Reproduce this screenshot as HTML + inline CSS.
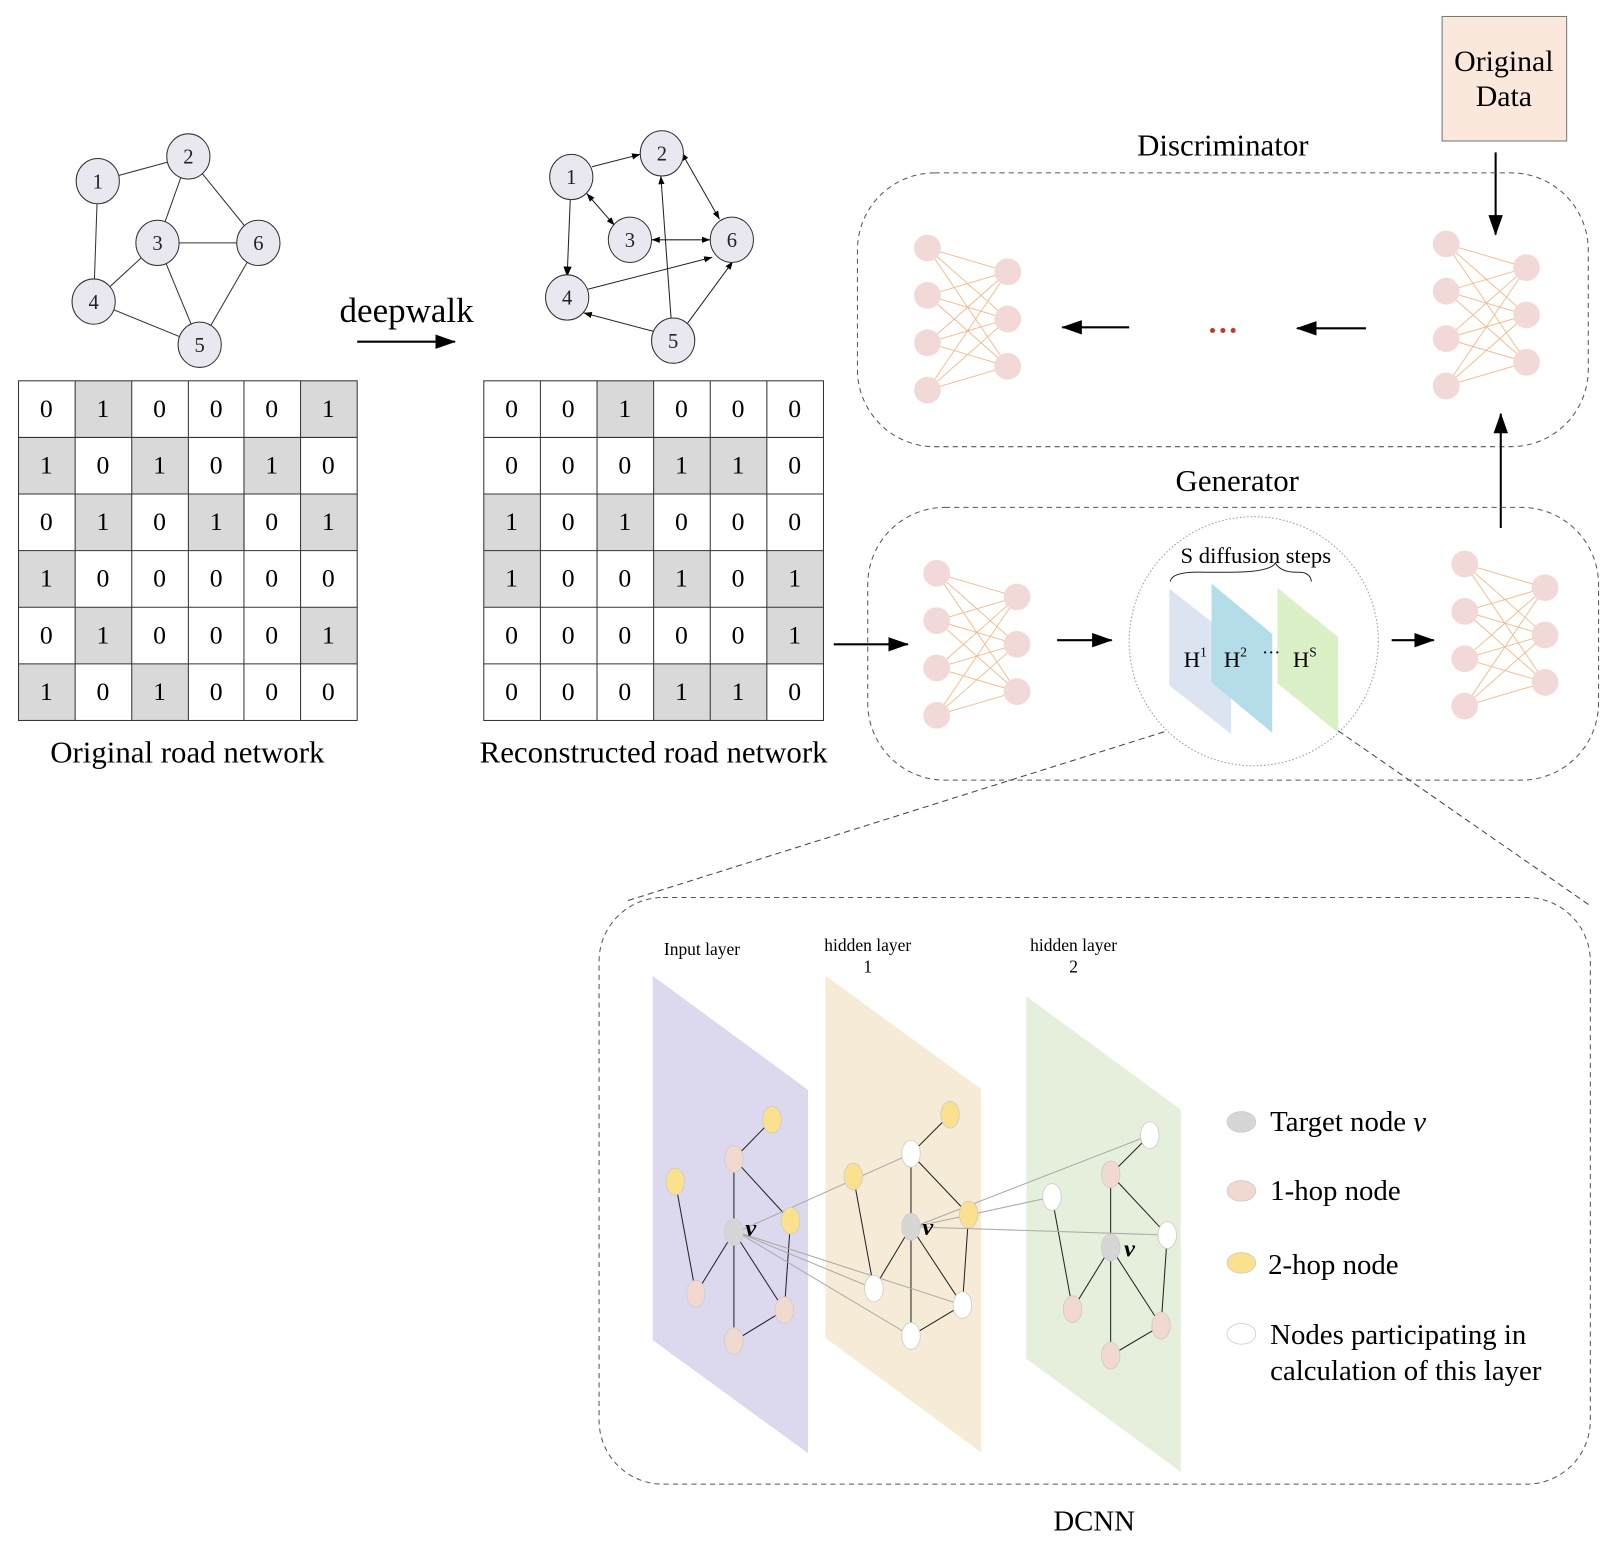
<!DOCTYPE html>
<html><head><meta charset="utf-8"><style>html,body{margin:0;padding:0;background:#fff}svg{display:block}</style></head>
<body>
<svg width="1614" height="1549" viewBox="0 0 1568 1505" preserveAspectRatio="none" xmlns="http://www.w3.org/2000/svg" font-family="Liberation Serif, serif">
<defs>
<marker id="ah" markerWidth="10" markerHeight="8" refX="9" refY="4" orient="auto" markerUnits="userSpaceOnUse"><path d="M0,0 L10,4 L0,8 z" fill="#000"/></marker>
<marker id="sa" markerWidth="8" markerHeight="6" refX="8" refY="3" orient="auto-start-reverse" markerUnits="userSpaceOnUse"><path d="M0,0 L8,3 L0,6 z" fill="#000"/></marker>
<marker id="big" markerWidth="20" markerHeight="14" refX="19" refY="7" orient="auto" markerUnits="userSpaceOnUse"><path d="M0,0 L20,7 L0,14 z" fill="#000"/></marker>
<g id="net">
<g stroke="#f6b98c" stroke-width="0.9">
<line x1="0" y1="0" x2="78" y2="23"/><line x1="0" y1="0" x2="78" y2="69"/><line x1="0" y1="0" x2="78" y2="115"/>
<line x1="0" y1="46" x2="78" y2="23"/><line x1="0" y1="46" x2="78" y2="69"/><line x1="0" y1="46" x2="78" y2="115"/>
<line x1="0" y1="92" x2="78" y2="23"/><line x1="0" y1="92" x2="78" y2="69"/><line x1="0" y1="92" x2="78" y2="115"/>
<line x1="0" y1="138" x2="78" y2="23"/><line x1="0" y1="138" x2="78" y2="69"/><line x1="0" y1="138" x2="78" y2="115"/>
</g>
<g fill="#f2d9d7">
<circle cx="0" cy="0" r="13"/><circle cx="0" cy="46" r="13"/><circle cx="0" cy="92" r="13"/><circle cx="0" cy="138" r="13"/>
<circle cx="78" cy="23" r="13"/><circle cx="78" cy="69" r="13"/><circle cx="78" cy="115" r="13"/>
</g>
</g>
</defs>

<!-- Graph 1 -->
<g stroke="#333" stroke-width="1">
<line x1="95" y1="176" x2="183" y2="152"/><line x1="95" y1="176" x2="91" y2="293"/>
<line x1="183" y1="152" x2="153" y2="236"/><line x1="183" y1="152" x2="251" y2="236"/>
<line x1="153" y1="236" x2="251" y2="236"/><line x1="153" y1="236" x2="91" y2="293"/>
<line x1="153" y1="236" x2="194" y2="335"/><line x1="91" y1="293" x2="194" y2="335"/>
<line x1="194" y1="335" x2="251" y2="236"/>
</g>
<g fill="#e9e7f0" stroke="#333" stroke-width="1">
<ellipse cx="95" cy="176" rx="21" ry="22"/><ellipse cx="183" cy="152" rx="21" ry="22"/>
<ellipse cx="153" cy="236" rx="21" ry="22"/><ellipse cx="251" cy="236" rx="21" ry="22"/>
<ellipse cx="91" cy="293" rx="21" ry="22"/><ellipse cx="194" cy="335" rx="21" ry="22"/>
</g>
<g font-size="20" text-anchor="middle" fill="#222">
<text x="95" y="183">1</text><text x="183" y="159">2</text><text x="153" y="243">3</text>
<text x="251" y="243">6</text><text x="91" y="300">4</text><text x="194" y="342">5</text>
</g>

<!-- deepwalk -->
<text x="395" y="313" font-size="34" text-anchor="middle">deepwalk</text>
<line x1="347" y1="332" x2="442" y2="332" stroke="#000" stroke-width="2" marker-end="url(#big)"/>

<!-- Graph 2 -->
<g stroke="#222" stroke-width="1">
<line x1="575" y1="162" x2="622" y2="150" marker-end="url(#sa)"/>
<line x1="570" y1="188" x2="597" y2="219" marker-start="url(#sa)" marker-end="url(#sa)"/>
<line x1="554" y1="194" x2="551" y2="268" marker-end="url(#ah)"/>
<line x1="662" y1="148" x2="699" y2="213" marker-start="url(#sa)" marker-end="url(#sa)"/>
<line x1="633" y1="233" x2="690" y2="233" marker-start="url(#sa)" marker-end="url(#sa)"/>
<line x1="571" y1="281" x2="692" y2="250" marker-end="url(#sa)"/>
<line x1="652" y1="310" x2="642" y2="171" marker-end="url(#sa)"/>
<line x1="635" y1="322" x2="567" y2="304" marker-end="url(#sa)"/>
<line x1="668" y1="314" x2="712" y2="254" marker-end="url(#sa)"/>
</g>
<g fill="#e9e7f0" stroke="#333" stroke-width="1">
<ellipse cx="555" cy="172" rx="21" ry="22"/><ellipse cx="643" cy="149" rx="21" ry="22"/>
<ellipse cx="612" cy="233" rx="21" ry="22"/><ellipse cx="711" cy="233" rx="21" ry="22"/>
<ellipse cx="551" cy="289" rx="21" ry="22"/><ellipse cx="654" cy="331" rx="21" ry="22"/>
</g>
<g font-size="20" text-anchor="middle" fill="#222">
<text x="555" y="179">1</text><text x="643" y="156">2</text><text x="612" y="240">3</text>
<text x="711" y="240">6</text><text x="551" y="296">4</text><text x="654" y="338">5</text>
</g>

<!-- Matrix 1 -->
<g fill="#d9d9d9">
<rect x="73" y="370" width="55" height="55"/><rect x="292" y="370" width="55" height="55"/>
<rect x="18" y="425" width="55" height="55"/><rect x="128" y="425" width="55" height="55"/><rect x="237" y="425" width="55" height="55"/>
<rect x="73" y="480" width="55" height="55"/><rect x="183" y="480" width="55" height="55"/><rect x="292" y="480" width="55" height="55"/>
<rect x="18" y="535" width="55" height="55"/>
<rect x="73" y="590" width="55" height="55"/><rect x="292" y="590" width="55" height="55"/>
<rect x="18" y="645" width="55" height="55"/><rect x="128" y="645" width="55" height="55"/>
</g>
<g stroke="#333" stroke-width="1" fill="none">
<rect x="18" y="370" width="329" height="330"/>
<path d="M73,370V700M128,370V700M183,370V700M237,370V700M292,370V700M18,425H347M18,480H347M18,535H347M18,590H347M18,645H347"/>
</g>
<g font-size="25" text-anchor="middle">
<text x="45" y="405">0</text><text x="100" y="405">1</text><text x="155" y="405">0</text><text x="210" y="405">0</text><text x="264" y="405">0</text><text x="319" y="405">1</text>
<text x="45" y="460">1</text><text x="100" y="460">0</text><text x="155" y="460">1</text><text x="210" y="460">0</text><text x="264" y="460">1</text><text x="319" y="460">0</text>
<text x="45" y="515">0</text><text x="100" y="515">1</text><text x="155" y="515">0</text><text x="210" y="515">1</text><text x="264" y="515">0</text><text x="319" y="515">1</text>
<text x="45" y="570">1</text><text x="100" y="570">0</text><text x="155" y="570">0</text><text x="210" y="570">0</text><text x="264" y="570">0</text><text x="319" y="570">0</text>
<text x="45" y="625">0</text><text x="100" y="625">1</text><text x="155" y="625">0</text><text x="210" y="625">0</text><text x="264" y="625">0</text><text x="319" y="625">1</text>
<text x="45" y="680">1</text><text x="100" y="680">0</text><text x="155" y="680">1</text><text x="210" y="680">0</text><text x="264" y="680">0</text><text x="319" y="680">0</text>
</g>
<text x="182" y="741" font-size="30" text-anchor="middle">Original road network</text>

<!-- Matrix 2 -->
<g fill="#d9d9d9">
<rect x="580" y="370" width="55" height="55"/>
<rect x="635" y="425" width="55" height="55"/><rect x="690" y="425" width="55" height="55"/>
<rect x="470" y="480" width="55" height="55"/><rect x="580" y="480" width="55" height="55"/>
<rect x="470" y="535" width="55" height="55"/><rect x="635" y="535" width="55" height="55"/><rect x="745" y="535" width="55" height="55"/>
<rect x="745" y="590" width="55" height="55"/>
<rect x="635" y="645" width="55" height="55"/><rect x="690" y="645" width="55" height="55"/>
</g>
<g stroke="#333" stroke-width="1" fill="none">
<rect x="470" y="370" width="330" height="330"/>
<path d="M525,370V700M580,370V700M635,370V700M690,370V700M745,370V700M470,425H800M470,480H800M470,535H800M470,590H800M470,645H800"/>
</g>
<g font-size="25" text-anchor="middle">
<text x="497" y="405">0</text><text x="552" y="405">0</text><text x="607" y="405">1</text><text x="662" y="405">0</text><text x="717" y="405">0</text><text x="772" y="405">0</text>
<text x="497" y="460">0</text><text x="552" y="460">0</text><text x="607" y="460">0</text><text x="662" y="460">1</text><text x="717" y="460">1</text><text x="772" y="460">0</text>
<text x="497" y="515">1</text><text x="552" y="515">0</text><text x="607" y="515">1</text><text x="662" y="515">0</text><text x="717" y="515">0</text><text x="772" y="515">0</text>
<text x="497" y="570">1</text><text x="552" y="570">0</text><text x="607" y="570">0</text><text x="662" y="570">1</text><text x="717" y="570">0</text><text x="772" y="570">1</text>
<text x="497" y="625">0</text><text x="552" y="625">0</text><text x="607" y="625">0</text><text x="662" y="625">0</text><text x="717" y="625">0</text><text x="772" y="625">1</text>
<text x="497" y="680">0</text><text x="552" y="680">0</text><text x="607" y="680">0</text><text x="662" y="680">1</text><text x="717" y="680">1</text><text x="772" y="680">0</text>
</g>
<text x="635" y="741" font-size="30" text-anchor="middle">Reconstructed road network</text>

<!-- Original Data -->
<rect x="1401" y="16" width="121" height="121" fill="#fbe8dc" stroke="#777" stroke-width="1"/>
<text x="1461" y="69" font-size="29" text-anchor="middle">Original</text>
<text x="1461" y="103" font-size="29" text-anchor="middle">Data</text>
<line x1="1453" y1="148" x2="1453" y2="228" stroke="#000" stroke-width="2" marker-end="url(#big)"/>

<!-- Discriminator -->
<text x="1188" y="151" font-size="30" text-anchor="middle">Discriminator</text>
<rect x="833" y="168" width="710" height="266" rx="75" fill="none" stroke="#555" stroke-dasharray="5,4"/>
<use href="#net" x="901" y="241"/>
<use href="#net" x="1405" y="237"/>
<line x1="1097" y1="318" x2="1032" y2="318" stroke="#000" stroke-width="2" marker-end="url(#big)"/>
<line x1="1327" y1="319" x2="1260" y2="319" stroke="#000" stroke-width="2" marker-end="url(#big)"/>
<text x="1188" y="331" font-size="30" font-weight="bold" text-anchor="middle" fill="#c0392b">···</text>
<line x1="1458" y1="513" x2="1458" y2="402" stroke="#000" stroke-width="2" marker-end="url(#big)"/>

<!-- Generator -->
<text x="1202" y="477" font-size="30" text-anchor="middle">Generator</text>
<rect x="843" y="493" width="710" height="265" rx="75" fill="none" stroke="#555" stroke-dasharray="5,4"/>
<use href="#net" x="910" y="557"/>
<use href="#net" x="1423" y="548"/>
<line x1="810" y1="626" x2="882" y2="626" stroke="#000" stroke-width="2" marker-end="url(#big)"/>
<line x1="1027" y1="622" x2="1080" y2="622" stroke="#000" stroke-width="2" marker-end="url(#big)"/>
<line x1="1352" y1="622" x2="1393" y2="622" stroke="#000" stroke-width="2" marker-end="url(#big)"/>
<circle cx="1218" cy="623" r="121" fill="none" stroke="#999" stroke-dasharray="1.5,2"/>
<text x="1220" y="547" font-size="22" text-anchor="middle">S diffusion steps</text>
<path d="M1137,565 Q1138,555 1170,556 L1195,556 Q1234,556 1239,547 Q1244,556 1260,556 L1262,556 Q1273,556 1274,565" fill="none" stroke="#222" stroke-width="1"/>
<polygon points="1136,572 1196,619 1196,713 1136,666" fill="#dce3f1"/>
<polygon points="1177,567 1236,616 1236,712 1177,663" fill="#b5dce9"/>
<polygon points="1241,571 1300,619 1300,712 1241,664" fill="#dcf0c8"/>
<text x="1150" y="648" font-size="22">H<tspan font-size="13" dy="-10">1</tspan></text>
<text x="1189" y="648" font-size="22">H<tspan font-size="13" dy="-10">2</tspan></text>
<text x="1226" y="640" font-size="18">···</text>
<text x="1256" y="648" font-size="22">H<tspan font-size="13" dy="-10">S</tspan></text>

<line x1="1131" y1="711" x2="610" y2="875" stroke="#444" stroke-dasharray="6,4"/>
<line x1="1300" y1="710" x2="1545" y2="880" stroke="#444" stroke-dasharray="6,4"/>

<!-- DCNN -->
<rect x="582" y="872" width="963" height="570" rx="62" fill="none" stroke="#555" stroke-dasharray="5,4"/>
<text x="1063" y="1487" font-size="28" text-anchor="middle">DCNN</text>
<polygon points="634,948 785,1059 785,1412 634,1302" fill="#dcd9ee"/>
<polygon points="802,948 953,1058 953,1411 802,1300" fill="#f6ebd6"/>
<polygon points="997,968 1147,1078 1147,1430 997,1320" fill="#e5efdc"/>
<text x="682" y="928" font-size="17" text-anchor="middle">Input layer</text>
<text x="843" y="924" font-size="17" text-anchor="middle">hidden layer</text>
<text x="843" y="945" font-size="17" text-anchor="middle">1</text>
<text x="1043" y="924" font-size="17" text-anchor="middle">hidden layer</text>
<text x="1043" y="945" font-size="17" text-anchor="middle">2</text>

<!-- graph edges in layers -->
<g stroke="#222" stroke-width="1">
<path d="M750,1088L713,1126M713,1126L713,1197M713,1126L768,1186M713,1197L676,1257M713,1197L713,1303M713,1197L762,1273M762,1273L713,1303M656,1148L676,1257M768,1186L762,1273"/>
<path d="M923,1083L885,1121M885,1121L885,1192M885,1121L941,1180M885,1192L849,1252M885,1192L885,1298M885,1192L935,1268M935,1268L885,1298M829,1143L849,1252M941,1180L935,1268"/>
<path d="M1117,1103L1079,1141M1079,1141L1079,1212M1079,1141L1134,1200M1079,1212L1042,1272M1079,1212L1079,1317M1079,1212L1128,1288M1128,1288L1079,1317M1022,1163L1042,1272M1134,1200L1128,1288"/>
</g>
<!-- cross layer lines -->
<g stroke="#aaa" stroke-width="1">
<line x1="716" y1="1197" x2="885" y2="1121"/><line x1="716" y1="1197" x2="849" y2="1252"/>
<line x1="716" y1="1197" x2="935" y2="1268"/><line x1="716" y1="1197" x2="885" y2="1298"/>
<line x1="888" y1="1192" x2="1117" y2="1103"/><line x1="888" y1="1192" x2="1022" y2="1163"/>
<line x1="888" y1="1192" x2="1134" y2="1200"/>
</g>
<!-- nodes -->
<g stroke="#ccc" stroke-width="0.8">
<ellipse cx="713" cy="1197" rx="9" ry="13" fill="#d6d6d6"/>
<ellipse cx="713" cy="1126" rx="9" ry="13" fill="#f2d9cf"/><ellipse cx="676" cy="1257" rx="9" ry="13" fill="#f2d9cf"/>
<ellipse cx="762" cy="1273" rx="9" ry="13" fill="#f2d9cf"/><ellipse cx="713" cy="1303" rx="9" ry="13" fill="#f2d9cf"/>
<ellipse cx="750" cy="1088" rx="9" ry="13" fill="#fbe08e"/><ellipse cx="656" cy="1148" rx="9" ry="13" fill="#fbe08e"/>
<ellipse cx="768" cy="1186" rx="9" ry="13" fill="#fbe08e"/>
<ellipse cx="885" cy="1192" rx="9" ry="13" fill="#d6d6d6"/>
<ellipse cx="885" cy="1121" rx="9" ry="13" fill="#fff"/><ellipse cx="849" cy="1252" rx="9" ry="13" fill="#fff"/>
<ellipse cx="935" cy="1268" rx="9" ry="13" fill="#fff"/><ellipse cx="885" cy="1298" rx="9" ry="13" fill="#fff"/>
<ellipse cx="923" cy="1083" rx="9" ry="13" fill="#fbe08e"/><ellipse cx="829" cy="1143" rx="9" ry="13" fill="#fbe08e"/>
<ellipse cx="941" cy="1180" rx="9" ry="13" fill="#fbe08e"/>
<ellipse cx="1079" cy="1212" rx="9" ry="13" fill="#d6d6d6"/>
<ellipse cx="1079" cy="1141" rx="9" ry="13" fill="#f2d9cf"/><ellipse cx="1042" cy="1272" rx="9" ry="13" fill="#f2d9cf"/>
<ellipse cx="1128" cy="1288" rx="9" ry="13" fill="#f2d9cf"/><ellipse cx="1079" cy="1317" rx="9" ry="13" fill="#f2d9cf"/>
<ellipse cx="1117" cy="1103" rx="9" ry="13" fill="#fff"/><ellipse cx="1022" cy="1163" rx="9" ry="13" fill="#fff"/>
<ellipse cx="1134" cy="1200" rx="9" ry="13" fill="#fff"/>
</g>
<g font-size="24" font-style="italic" font-weight="bold">
<text x="724" y="1201">v</text><text x="896" y="1200">v</text><text x="1092" y="1221">v</text>
</g>

<!-- legend -->
<g stroke="#ccc" stroke-width="0.8">
<ellipse cx="1206" cy="1090" rx="14" ry="10" fill="#d6d6d6"/>
<ellipse cx="1206" cy="1157" rx="14" ry="10" fill="#f2d9cf"/>
<ellipse cx="1206" cy="1227" rx="14" ry="10" fill="#fbe08e"/>
<ellipse cx="1206" cy="1296" rx="14" ry="10" fill="#fff"/>
</g>
<g font-size="28">
<text x="1234" y="1099">Target node <tspan font-style="italic">v</tspan></text>
<text x="1234" y="1166">1-hop node</text>
<text x="1232" y="1238">2-hop node</text>
<text x="1234" y="1306">Nodes participating in</text>
<text x="1234" y="1341">calculation of this layer</text>
</g>
</svg>
</body></html>
